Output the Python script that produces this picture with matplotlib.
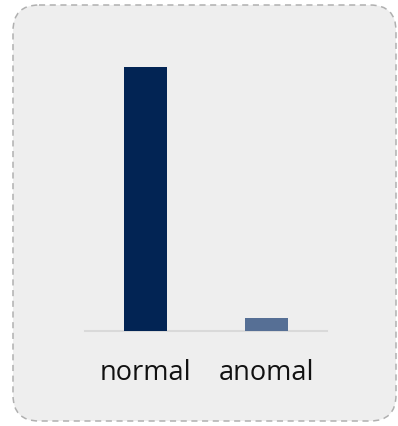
import matplotlib
matplotlib.use("Agg")
import matplotlib.pyplot as plt
from matplotlib.patches import FancyBboxPatch

categories = ["normal", "anomal"]
values = [100, 5]
colors = ["#022454", "#566f95"]

W, H = 398, 426
fig = plt.figure(figsize=(W / 100, H / 100), dpi=100)
fig.patch.set_facecolor("white")

# card background with dashed rounded border
bg = fig.add_axes([0, 0, 1, 1])
bg.set_xlim(0, W)
bg.set_ylim(H, 0)
bg.axis("off")
card = FancyBboxPatch((13, 5), 383, 416,
                      boxstyle="round,pad=0,rounding_size=26",
                      facecolor="#eeeeee", edgecolor="#b0b0b0",
                      linewidth=1.1, linestyle=(0, (4, 3)))
bg.add_patch(card)

# bar chart
ax = fig.add_axes([85 / W, (H - 331) / H, (327 - 85) / W, (331 - 67) / H])
ax.patch.set_alpha(0)
x = list(range(len(categories)))
ax.bar(x, values, width=0.355, color=colors, zorder=2)
ax.set_xlim(-0.5, len(categories) - 0.5)
ax.set_ylim(0, max(values))
ax.set_xticks(x)
ax.set_xticklabels(categories, fontsize=19.5, color="#111111",
                   family=["Open Sans", "DejaVu Sans"])
ax.tick_params(axis="x", length=0, pad=20)
ax.set_yticks([])
for s in ["top", "right", "left"]:
    ax.spines[s].set_visible(False)
ax.spines["bottom"].set_color("#d9d9d9")
ax.spines["bottom"].set_linewidth(1.5)
ax.spines["bottom"].set_zorder(1)

fig.savefig("out.png", dpi=100)
